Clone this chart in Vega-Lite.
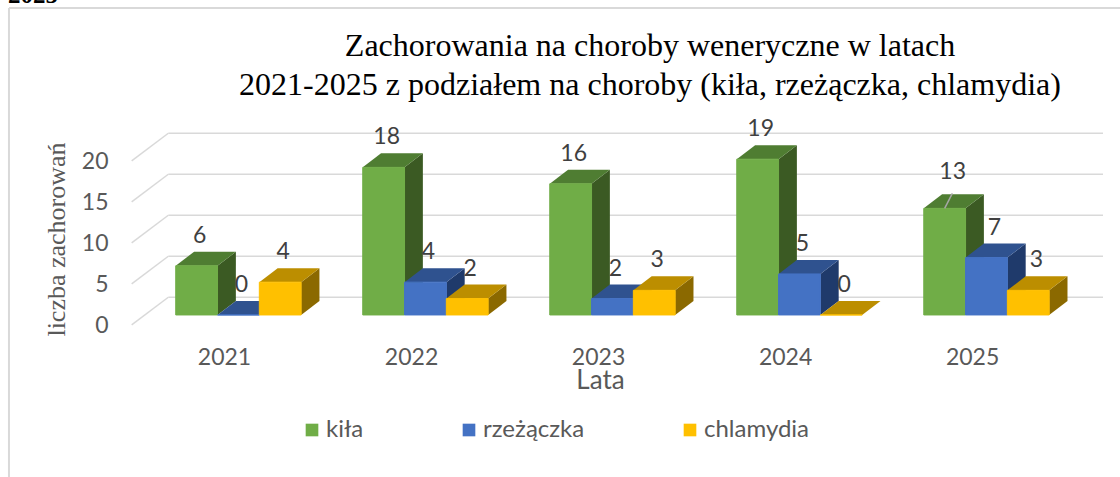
{
"$schema":"https://vega.github.io/schema/vega-lite/v6.json",
"width":1120,"height":477,"padding":0,"autosize":{"type":"none"},
"background":"white",
"config":{"view":{"stroke":null}},
"title":{"text":["Zachorowania na choroby weneryczne w latach","2021-2025 z podziałem na choroby (kiła, rzeżączka, chlamydia)"],"font":"Liberation Serif","fontSize":32,"fontWeight":"normal","color":"#000000","anchor":"middle","frame":"group","dx":90,"dy":123,"lineHeight":39},
"data":{"values":[
{"rok":2021,"choroba":"kiła","liczba":6},{"rok":2021,"choroba":"rzeżączka","liczba":0},{"rok":2021,"choroba":"chlamydia","liczba":4},
{"rok":2022,"choroba":"kiła","liczba":18},{"rok":2022,"choroba":"rzeżączka","liczba":4},{"rok":2022,"choroba":"chlamydia","liczba":2},
{"rok":2023,"choroba":"kiła","liczba":16},{"rok":2023,"choroba":"rzeżączka","liczba":2},{"rok":2023,"choroba":"chlamydia","liczba":3},
{"rok":2024,"choroba":"kiła","liczba":19},{"rok":2024,"choroba":"rzeżączka","liczba":5},{"rok":2024,"choroba":"chlamydia","liczba":0},
{"rok":2025,"choroba":"kiła","liczba":13},{"rok":2025,"choroba":"rzeżączka","liczba":7},{"rok":2025,"choroba":"chlamydia","liczba":3}
]},
"transform":[
{"calculate":"indexof(['kiła','rzeżączka','chlamydia'],datum.choroba)","as":"i"},
{"calculate":"datum.rok-0.3353+datum.i*0.2235","as":"xs"},
{"calculate":"datum.xs+0.2235","as":"xe"}
],
"layer":[
{"data":{"values":[{"v":0},{"v":5},{"v":10},{"v":15},{"v":20}]},
 "transform":[{"calculate":"datum.v+2.16","as":"tyl"}],
 "mark":{"type":"rule","color":"#d9d9d9","strokeWidth":1.5},
 "encoding":{
  "x":{"datum":2020.625,"type":"quantitative","scale":{"domain":[2019.725,2025.714],"nice":false,"zero":false},
   "axis":{"values":[2021,2022,2023,2024,2025],"format":"d","domain":false,"ticks":false,"grid":false,"labelFont":"Lato","labelFontSize":23,"labelColor":"#595959","labelOffset":-14.4,"labelPadding":0,"labelBaseline":"middle","offset":-120,"title":"Lata","titleFont":"Lato","titleFontSize":26,"titleFontWeight":"normal","titleColor":"#595959","titleX":600,"titleY":23,"titleBaseline":"middle"}},
  "x2":{"datum":2025.623},
  "y":{"field":"tyl","type":"quantitative","scale":{"domain":[-19.76,38.41],"nice":false,"zero":false},
   "axis":{"values":[0,5,10,15,20],"domain":false,"ticks":false,"grid":false,"labelFont":"Lato","labelFontSize":23,"labelColor":"#595959","labelOffset":11,"labelPadding":0,"offset":-108,"title":"liczba zachorowań","titleFont":"Liberation Serif","titleFontSize":26,"titleFontWeight":"normal","titleColor":"#595959","titleX":-52,"titleY":239,"titleBaseline":"middle"}},
  "y2":{"field":"tyl"}}},
{"data":{"values":[{"v":0},{"v":5},{"v":10},{"v":15},{"v":20}]},
 "transform":[{"calculate":"datum.v+2.16","as":"tyl"},{"calculate":"datum.v-1.22","as":"przod"}],
 "mark":{"type":"rule","color":"#d9d9d9","strokeWidth":1.5},
 "encoding":{
  "x":{"datum":2020.429,"type":"quantitative"},"x2":{"datum":2020.625},
  "y":{"field":"przod","type":"quantitative"},"y2":{"field":"tyl"}}},
{"data":{"values":[{"k":"ramka"}]},
 "mark":{"type":"rule","color":"#d9d9d9","strokeWidth":2},
 "encoding":{"x":{"datum":2019.773,"type":"quantitative"},"x2":{"datum":2025.714},"y":{"datum":37.44,"type":"quantitative"}}},
{"data":{"values":[{"k":"ramka"}]},
 "mark":{"type":"rule","color":"#d9d9d9","strokeWidth":2},
 "encoding":{"x":{"datum":2019.773,"type":"quantitative"},"y":{"datum":37.44,"type":"quantitative"},"y2":{"datum":-19.76}}},
{"data":{"values":[{"t":"2025"}]},
 "mark":{"type":"text","font":"Liberation Serif","fontWeight":"bold","fontSize":25,"align":"left","baseline":"alphabetic","color":"#000000"},
 "encoding":{"x":{"datum":2019.768,"type":"quantitative"},"y":{"datum":38.1,"type":"quantitative"},"text":{"field":"t"}}},

{"transform":[{"filter":"datum.i==0"},{"calculate":"[0,1]","as":"k"},{"flatten":["k"]},{"calculate":"datum.xe+datum.k*0.098","as":"xv"},{"calculate":"datum.liczba+datum.k*1.707","as":"yv"},{"calculate":"datum.k*1.707","as":"yd"}],
 "mark":{"type":"area","color":"#3B5A23","orient":"vertical"},
 "encoding":{"x":{"field":"xv","type":"quantitative"},"y":{"field":"yv","type":"quantitative","stack":null},"y2":{"field":"yd"},"detail":{"field":"rok"}}},
{"transform":[{"filter":"datum.i==0"},{"calculate":"[0,1,2,3]","as":"k"},{"flatten":["k"]},{"calculate":"[datum.xs,datum.xs+0.098,datum.xe,datum.xe+0.098][datum.k]","as":"xv"},{"calculate":"datum.k==0?datum.liczba:datum.liczba+1.707","as":"yv"},{"calculate":"datum.k==3?datum.liczba+1.707:datum.liczba","as":"yd"}],
 "mark":{"type":"area","color":"#4F7D32","orient":"vertical"},
 "encoding":{"x":{"field":"xv","type":"quantitative"},"y":{"field":"yv","type":"quantitative","stack":null},"y2":{"field":"yd"},"detail":{"field":"rok"}}},
{"transform":[{"filter":"datum.i==1"},{"calculate":"[0,1]","as":"k"},{"flatten":["k"]},{"calculate":"datum.xe+datum.k*0.098","as":"xv"},{"calculate":"datum.liczba+datum.k*1.707","as":"yv"},{"calculate":"datum.k*1.707","as":"yd"}],
 "mark":{"type":"area","color":"#1F3A6B","orient":"vertical"},
 "encoding":{"x":{"field":"xv","type":"quantitative"},"y":{"field":"yv","type":"quantitative","stack":null},"y2":{"field":"yd"},"detail":{"field":"rok"}}},
{"transform":[{"filter":"datum.i==1"},{"calculate":"[0,1,2,3]","as":"k"},{"flatten":["k"]},{"calculate":"[datum.xs,datum.xs+0.098,datum.xe,datum.xe+0.098][datum.k]","as":"xv"},{"calculate":"datum.k==0?datum.liczba:datum.liczba+1.707","as":"yv"},{"calculate":"datum.k==3?datum.liczba+1.707:datum.liczba","as":"yd"}],
 "mark":{"type":"area","color":"#2F528F","orient":"vertical"},
 "encoding":{"x":{"field":"xv","type":"quantitative"},"y":{"field":"yv","type":"quantitative","stack":null},"y2":{"field":"yd"},"detail":{"field":"rok"}}},
{"transform":[{"filter":"datum.i==2"},{"calculate":"[0,1]","as":"k"},{"flatten":["k"]},{"calculate":"datum.xe+datum.k*0.098","as":"xv"},{"calculate":"datum.liczba+datum.k*1.707","as":"yv"},{"calculate":"datum.k*1.707","as":"yd"}],
 "mark":{"type":"area","color":"#8B6900","orient":"vertical"},
 "encoding":{"x":{"field":"xv","type":"quantitative"},"y":{"field":"yv","type":"quantitative","stack":null},"y2":{"field":"yd"},"detail":{"field":"rok"}}},
{"transform":[{"filter":"datum.i==2"},{"calculate":"[0,1,2,3]","as":"k"},{"flatten":["k"]},{"calculate":"[datum.xs,datum.xs+0.098,datum.xe,datum.xe+0.098][datum.k]","as":"xv"},{"calculate":"datum.k==0?datum.liczba:datum.liczba+1.707","as":"yv"},{"calculate":"datum.k==3?datum.liczba+1.707:datum.liczba","as":"yd"}],
 "mark":{"type":"area","color":"#BC8E00","orient":"vertical"},
 "encoding":{"x":{"field":"xv","type":"quantitative"},"y":{"field":"yv","type":"quantitative","stack":null},"y2":{"field":"yd"},"detail":{"field":"rok"}}},

{"mark":{"type":"rect","strokeWidth":1},
 "encoding":{
  "x":{"field":"xs","type":"quantitative"},"x2":{"field":"xe"},
  "y":{"field":"liczba","type":"quantitative"},"y2":{"datum":0},
  "color":{"field":"choroba","type":"nominal","scale":{"domain":["kiła","rzeżączka","chlamydia"],"range":["#70AD47","#4472C4","#FFC000"]},
   "legend":{"title":null,"orient":"none","legendX":300,"legendY":418,"direction":"horizontal","symbolType":"square","symbolSize":160,"symbolStrokeWidth":0,"labelFont":"Lato","labelFontSize":24,"labelColor":"#595959","labelOffset":2,"columnPadding":93,"gridAlign":"each"}},
  "stroke":{"field":"choroba","type":"nominal","scale":{"domain":["kiła","rzeżączka","chlamydia"],"range":["#70AD47","#4472C4","#FFC000"]},"legend":null}}},

{"transform":[{"calculate":"(datum.xs+datum.xe)/2+(datum.rok==2025?0.043:0.016)","as":"xl"},{"calculate":"datum.rok==2025&&datum.i==0?datum.liczba+0.8:datum.liczba","as":"yl"}],
 "mark":{"type":"text","font":"Lato","fontSize":23,"color":"#404040","align":"center","baseline":"middle","yOffset":-30},
 "encoding":{"x":{"field":"xl","type":"quantitative"},"y":{"field":"yl","type":"quantitative"},"text":{"field":"liczba","type":"quantitative"}}},
{"transform":[{"filter":"datum.rok==2025&&datum.i==0"},{"calculate":"(datum.xs+datum.xe)/2","as":"x1"},{"calculate":"datum.x1+0.041","as":"x2"},{"calculate":"datum.liczba+1.83","as":"y2"}],
 "mark":{"type":"rule","color":"#a6a6a6","strokeWidth":1.5},
 "encoding":{"x":{"field":"x1","type":"quantitative"},"x2":{"field":"x2"},"y":{"field":"liczba","type":"quantitative"},"y2":{"field":"y2"}}}
]
}
